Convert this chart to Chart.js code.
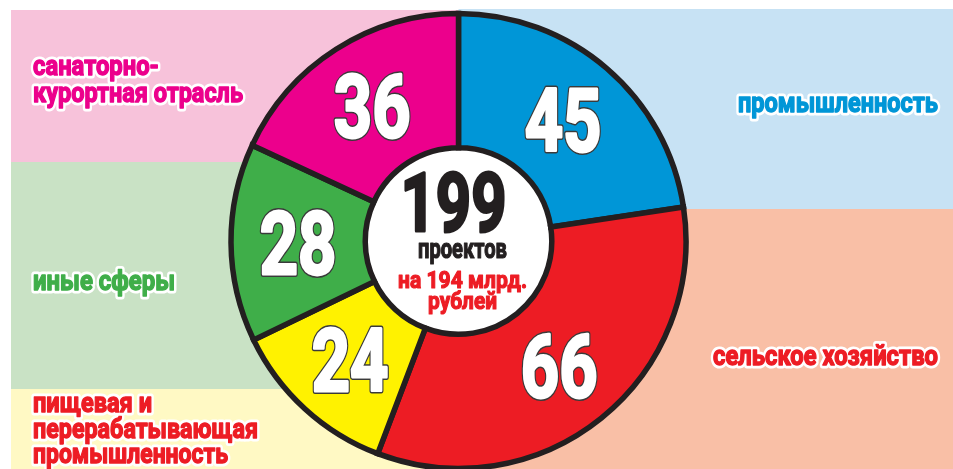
<!DOCTYPE html>
<html>
<head>
<meta charset="utf-8">
<script src="https://cdn.jsdelivr.net/npm/chart.js@4.4.0/dist/chart.umd.min.js"></script>
<style>
html,body{margin:0;padding:0;background:#fff;}
#wrap{width:953px;height:469px;position:relative;}
</style>
</head>
<body>
<div id="wrap"><canvas id="c" width="953" height="469"></canvas></div>
<script>
// ---- data ----
const categories = ['промышленность', 'сельское хозяйство', 'пищевая и перерабатывающая промышленность', 'иные сферы', 'санаторно-курортная отрасль'];
const projectCounts = [45, 66, 24, 28, 36];
const categoryLabelLines = [['промышленность'], ['сельское хозяйство'], ['пищевая и', 'перерабатывающая', 'промышленность'], ['иные сферы'], ['санаторно-', 'курортная отрасль']];
const investmentBillionRub = 194;
const centerCaption = ['проектов', 'на ' + investmentBillionRub + ' млрд.', 'рублей'];

// ---- styles ----
const sliceColors = ['#0096D7', '#ED1C24', '#FFF200', '#3FAE49', '#EC008C'];
const labelColors = ['#0096D7', '#ED1C24', '#ED1C24', '#3FAE49', '#EC008C'];
const FONT = "Roboto, 'Liberation Sans', 'DejaVu Sans', sans-serif";
const labelLayout = [
  {x: 738, ys: [112], ws: [200]},
  {x: 713, ys: [365], ws: [225]},
  {x: 33, ys: [412, 438, 463], ws: [119, 225, 195]},
  {x: 33, ys: [290], ws: [142]},
  {x: 33, ys: [75, 102], ws: [126, 210]}
];

function drawText(ctx, text, x, y, o) {
  ctx.save();
  ctx.font = (o.weight || 'bold') + ' ' + o.size + 'px ' + FONT;
  const w = ctx.measureText(text).width;
  const sx = o.width ? o.width / w : (o.sx || 1);
  ctx.translate(x, y);
  ctx.scale(sx, 1);
  ctx.textAlign = o.align || 'left';
  ctx.textBaseline = 'alphabetic';
  ctx.lineJoin = 'round';
  if (o.stroke) {
    ctx.lineWidth = o.strokeWidth;
    ctx.strokeStyle = o.stroke;
    ctx.strokeText(text, 0, 0);
  }
  if (o.bold) {
    ctx.lineWidth = o.bold;
    ctx.strokeStyle = o.color;
    ctx.strokeText(text, 0, 0);
  }
  ctx.fillStyle = o.color;
  ctx.fillText(text, 0, 0);
  ctx.restore();
}

const panelsPlugin = {
  id: 'panels',
  beforeDraw(chart) {
    const ctx = chart.ctx;
    const meta = chart.getDatasetMeta(0);
    const cx = meta.data[0].x;
    ctx.save();
    ctx.fillStyle = '#ffffff';
    ctx.fillRect(0, 0, chart.width, chart.height);
    ctx.fillStyle = '#F7C2DA'; ctx.fillRect(11, 10, cx - 11, 152);
    ctx.fillStyle = '#C9E2C5'; ctx.fillRect(11, 162, cx - 11, 227);
    ctx.fillStyle = '#FFF9C4'; ctx.fillRect(11, 389, cx - 11, 80);
    ctx.fillStyle = '#C7E2F4'; ctx.fillRect(cx, 9, chart.width - cx, 200);
    ctx.fillStyle = '#F9BFA6'; ctx.fillRect(cx, 209, chart.width - cx, 260);
    ctx.restore();
    categoryLabelLines.forEach((lines, i) => {
      const L = labelLayout[i];
      lines.forEach((t, j) => {
        drawText(ctx, t, L.x, L.ys[j], {size: 28, width: L.ws[j], color: labelColors[i], stroke: '#ffffff', strokeWidth: 7, bold: 1.4});
      });
    });
  },
  beforeDatasetsDraw(chart) {
    const ctx = chart.ctx;
    const arc = chart.getDatasetMeta(0).data[0];
    ctx.save();
    ctx.beginPath();
    ctx.arc(arc.x, arc.y, arc.innerRadius, 0, Math.PI * 2);
    ctx.fillStyle = '#ffffff';
    ctx.fill();
    ctx.restore();
  },
  afterDatasetsDraw(chart) {
    const ctx = chart.ctx;
    const meta = chart.getDatasetMeta(0);
    const values = chart.data.datasets[0].data;
    meta.data.forEach((arc, i) => {
      const mid = (arc.startAngle + arc.endAngle) / 2;
      const r = (arc.innerRadius + arc.outerRadius) / 2;
      const x = arc.x + Math.cos(mid) * r;
      const y = arc.y + Math.sin(mid) * r;
      ctx.save();
      ctx.font = 'bold 88px ' + FONT;
      const asc = ctx.measureText(String(values[i])).actualBoundingBoxAscent;
      ctx.restore();
      drawText(ctx, String(values[i]), x, y + asc / 2, {size: 88, sx: 0.76, align: 'center', color: '#ffffff', stroke: '#3a3a3a', strokeWidth: 6, bold: 3});
    });
    const total = values.reduce((a, b) => a + b, 0);
    const c = meta.data[0];
    drawText(ctx, String(total), c.x - 5, 231, {size: 82, width: 106, align: 'center', color: '#231F20', bold: 3});
    drawText(ctx, centerCaption[0], c.x + 4, 258, {size: 27, width: 89, align: 'center', color: '#231F20', bold: 1.2});
    drawText(ctx, centerCaption[1], c.x + 4, 288, {size: 24, width: 129, align: 'center', color: '#ED1C24', bold: 1.2});
    drawText(ctx, centerCaption[2], c.x + 4, 309, {size: 24, width: 69, align: 'center', color: '#ED1C24', bold: 1.2});
  }
};

new Chart(document.getElementById('c'), {
  type: 'doughnut',
  data: {
    labels: categories,
    datasets: [{
      data: projectCounts,
      backgroundColor: sliceColors,
      borderColor: '#231F20',
      borderWidth: 5.5,
      borderJoinStyle: 'miter'
    }]
  },
  options: {
    responsive: false,
    animation: false,
    radius: 227.5,
    cutout: '41%',
    layout: {padding: {left: 0, right: 36, top: 13, bottom: 0}},
    plugins: {legend: {display: false}, tooltip: {enabled: false}}
  },
  plugins: [panelsPlugin]
});
</script>
</body>
</html>
